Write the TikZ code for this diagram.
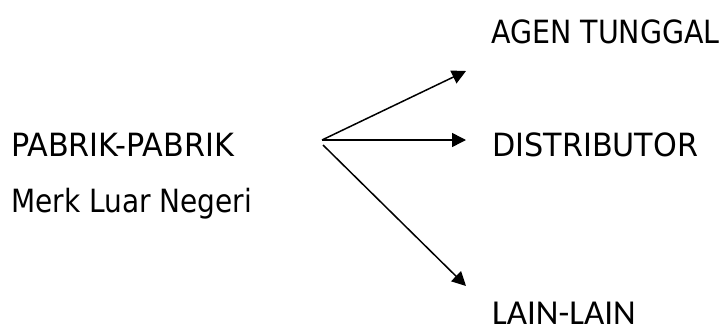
\documentclass[tikz,border=0pt]{standalone}
\usepackage{fontspec}
\setmainfont{DejaVu Sans}[FakeStretch=0.945]
\newfontfamily\agenfont{DejaVu Sans}[FakeStretch=0.89]
\newfontfamily\merkfont{DejaVu Sans}[FakeStretch=0.875]
\newfontfamily\lainfont{Carlito}
\usetikzlibrary{arrows.meta}
\tikzset{
  lbl/.style={anchor=base west, inner sep=0pt, text depth=0pt, font=\fontsize{32}{38}\selectfont},
  arr/.style={line width=1.5pt, -{Triangle[length=14pt,width=14pt]}}
}
\begin{document}
\begin{tikzpicture}[x=1pt,y=-1pt]
\useasboundingbox (0,0) rectangle (722,332);
\node[lbl] (pabrik) at (11,156) {PABRIK-PABRIK};
\node[lbl, font=\merkfont\fontsize{32}{38}\selectfont] (merk) at (11,212) {Merk Luar Negeri};
\node[lbl, font=\agenfont\fontsize{32}{38}\selectfont] (agen) at (491,43) {AGEN TUNGGAL};
\node[lbl] (dist) at (492,156) {DISTRIBUTOR};
\node[lbl, font=\lainfont\fontsize{35}{40}\selectfont] (lain) at (492,324) {LAIN-LAIN};
\coordinate (s1) at (322,140);
\coordinate (s2) at (323,145);
\coordinate (t1) at (466,71);
\coordinate (t2) at (466,140);
\coordinate (t3) at (466,286);
\draw[arr] (s1) -- (t1);
\draw[arr] (s1) -- (t2);
\draw[arr] (s2) -- (t3);
\end{tikzpicture}
\end{document}
